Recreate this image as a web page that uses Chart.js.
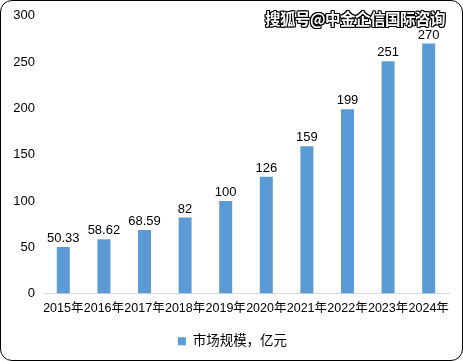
<!DOCTYPE html>
<html><head><meta charset="utf-8">
<script src="https://cdn.jsdelivr.net/npm/chart.js@4/dist/chart.umd.min.js"></script>
<style>
html,body{margin:0;padding:0;background:#fff;}
#wrap{position:relative;width:463px;height:361px;box-sizing:border-box;border:1.5px solid #000;border-radius:12px;overflow:hidden;}
canvas{position:absolute;left:-1.5px;top:-1.5px;}
#wm{position:absolute;left:264px;top:6px;font:bold 15.5px "Noto Sans CJK SC",sans-serif;color:#fff;letter-spacing:-0.5px;
text-shadow:1px 0 0 #000,-1px 0 0 #000,0 1px 0 #000,0 -1px 0 #000,1px 1px 0 #000,-1px -1px 0 #000,1px -1px 0 #000,-1px 1px 0 #000;white-space:nowrap;}
</style></head><body>
<div id="wrap"><canvas id="c" width="463" height="361"></canvas><div id="wm">搜狐号@中金企信国际咨询</div></div>
<script>
const categories = ["2015年","2016年","2017年","2018年","2019年","2020年","2021年","2022年","2023年","2024年"];
const values = [50.33, 58.62, 68.59, 82, 100, 126, 159, 199, 251, 270];
const valueLabels = ["50.33","58.62","68.59","82","100","126","159","199","251","270"];
const seriesName = "市场规模，亿元";
const FONT = '"Liberation Sans","Noto Sans CJK SC",sans-serif';

const labelPlugin = {
  id:'vals',
  afterLayout(chart){
    if (chart.legend){ chart.legend.left += 8; chart.legend.right += 8; }
  },
  afterDatasetsDraw(chart){
    const ctx = chart.ctx;
    const meta = chart.getDatasetMeta(0);
    ctx.save();
    ctx.font = '13px ' + FONT;
    ctx.fillStyle = '#000';
    ctx.textAlign = 'center';
    ctx.textBaseline = 'bottom';
    meta.data.forEach((b,i)=>{ ctx.fillText(valueLabels[i], b.x, b.y - 2); });
    ctx.restore();
  }
};

new Chart(document.getElementById('c'), {
  type:'bar',
  data:{labels:categories, datasets:[{label:seriesName, data:values, backgroundColor:'#5B9BD5', barPercentage:0.64, categoryPercentage:0.5}]},
  options:{
    responsive:false, animation:false,
    layout:{padding:{left:0,right:14,top:15,bottom:3}},
    scales:{
      x:{grid:{display:false, drawTicks:false}, border:{display:true,color:'#d9d9d9',width:1},
         ticks:{color:'#000', font:{size:12.5, family:FONT}, padding:8, maxRotation:0, autoSkip:false}},
      y:{min:0,max:300, grid:{display:false, drawTicks:false}, border:{display:false},
         ticks:{stepSize:50, color:'#000', font:{size:13, family:FONT}, padding:8},
         afterFit(s){ s.width = 43; }}
    },
    plugins:{
      legend:{position:'bottom', labels:{boxWidth:8, boxHeight:8, color:'#000', font:{size:13.5, family:FONT}, padding:10}},
      tooltip:{enabled:false}
    }
  },
  plugins:[labelPlugin]
});
</script>
</body></html>
